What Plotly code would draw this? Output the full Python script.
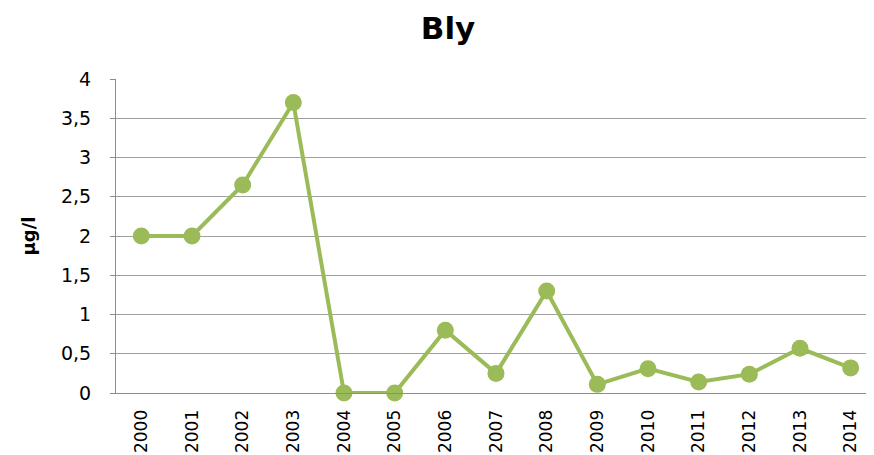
import plotly.graph_objects as go

years = ["2000", "2001", "2002", "2003", "2004", "2005", "2006", "2007",
         "2008", "2009", "2010", "2011", "2012", "2013", "2014"]
values = [2.0, 2.0, 2.65, 3.7, 0.0, 0.0, 0.8, 0.25, 1.3, 0.11, 0.31, 0.14, 0.24, 0.57, 0.32]
y_ticks = [0, 0.5, 1, 1.5, 2, 2.5, 3, 3.5, 4]
y_tick_labels = ["0", "0,5", "1", "1,5", "2", "2,5", "3", "3,5", "4"]

FONT = "DejaVu Sans, Liberation Sans, sans-serif"
W, H = 874, 447

fig = go.Figure()
fig.add_trace(go.Scatter(
    x=years, y=values, mode="lines+markers",
    line=dict(color="#9BBB59", width=4),
    marker=dict(color="#9BBB59", size=17),
    cliponaxis=False,
))

# page body has an 8px margin, so the figure is offset by 8px right/down
fig.update_layout(
    width=W, height=H,
    margin=dict(l=108, r=6, t=71, b=62, autoexpand=False),
    paper_bgcolor="white", plot_bgcolor="white",
    showlegend=False,
    title=dict(text="<b>Bly</b>", x=(448 - 8) / W, xanchor="center", xref="container",
               y=1 - 20 / H, yref="container", yanchor="middle",
               font=dict(family=FONT, size=31, color="black")),
    font=dict(family=FONT, size=17, color="black"),
)
fig.update_xaxes(
    type="category", tickangle=-90, showgrid=False,
    showline=True, linecolor="#8c8c8c", linewidth=1,
    ticks="", ticklabelstandoff=9,
    tickfont=dict(family=FONT, size=17, color="black"),
    range=[-0.5, 14.5], automargin=False,
)
fig.update_yaxes(
    range=[0, 4], tickvals=y_ticks, ticktext=y_tick_labels,
    showgrid=True, gridcolor="#a0a0a0", gridwidth=1,
    showline=True, linecolor="#8c8c8c", linewidth=1,
    ticks="outside", ticklen=5, tickcolor="#8c8c8c",
    ticklabelstandoff=15,
    tickfont=dict(family=FONT, size=19, color="black"),
    zeroline=False, automargin=False,
    title=dict(text="<b>µg/l</b>", font=dict(family=FONT, size=18, color="black"), standoff=20),
)

fig.write_html("out.html")
